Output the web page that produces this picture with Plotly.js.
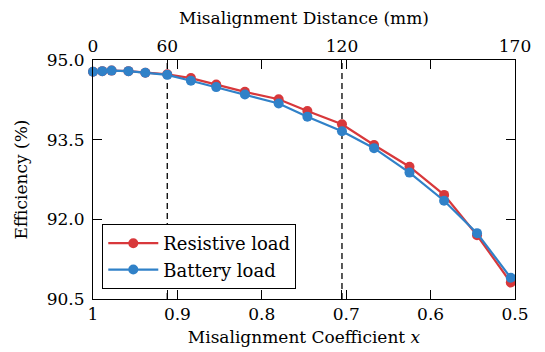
<!DOCTYPE html>
<html>
<head>
<meta charset="utf-8">
<script src="https://cdn.plot.ly/plotly-3.0.1.min.js"></script>
<style>
  html, body { margin: 0; padding: 0; background: #fff; }
  #chart { width: 545px; height: 352px; }
</style>
</head>
<body>
<div id="chart"></div>
<script>
// Misalignment coefficient of each measured point
const coefficient = [1.0, 0.989, 0.978, 0.958, 0.938, 0.912, 0.884, 0.854, 0.82,
                     0.78, 0.746, 0.705, 0.667, 0.625, 0.584, 0.545, 0.505];
// Efficiency (%) for each load type
const resistiveEff = [94.78, 94.79, 94.80, 94.79, 94.76, 94.73, 94.66, 94.54, 94.40,
                      94.26, 94.04, 93.79, 93.40, 92.99, 92.46, 91.70, 90.81];
const batteryEff   = [94.78, 94.79, 94.80, 94.79, 94.76, 94.72, 94.61, 94.49, 94.35,
                      94.18, 93.93, 93.66, 93.34, 92.88, 92.35, 91.74, 90.90];

// Top axis: misalignment distance (mm) and the coefficient it corresponds to
const distanceLabels = ['0', '60', '120', '170'];
const distanceCoef   = [1.0, 0.912, 0.705, 0.5];
// Distances marked with a dashed guide line
const guideDistances = ['60', '120'];

// Bottom axis and y axis ticks
const coefTicks = [1, 0.9, 0.8, 0.7, 0.6, 0.5];
const coefTickText = ['1', '0.9', '0.8', '0.7', '0.6', '0.5'];
const effTicks = [90.5, 92.0, 93.5, 95.0];

const RED = '#d8383b';
const BLUE = '#3081c8';
const FONT = 'DejaVu Serif';
const FS = 17;

const traces = [
  {
    x: coefficient, y: resistiveEff, name: 'Resistive load',
    type: 'scatter', mode: 'lines+markers', cliponaxis: false,
    line: { color: RED, width: 2.2 },
    marker: { color: RED, size: 10 }
  },
  {
    x: coefficient, y: batteryEff, name: 'Battery load',
    type: 'scatter', mode: 'lines+markers', cliponaxis: false,
    line: { color: BLUE, width: 2.2 },
    marker: { color: BLUE, size: 10 }
  }
];

const guideShapes = guideDistances.map(d => ({
  type: 'line', xref: 'x', yref: 'paper',
  x0: distanceCoef[distanceLabels.indexOf(d)],
  x1: distanceCoef[distanceLabels.indexOf(d)],
  y0: 0, y1: 1,
  line: { color: '#000', width: 1.3, dash: '6px,4px' },
  layer: 'below'
}));

const layout = {
  width: 545, height: 352,
  margin: { l: 93, r: 30, t: 60, b: 53 },
  paper_bgcolor: '#fff', plot_bgcolor: '#fff',
  font: { family: FONT, size: FS, color: '#000' },
  showlegend: true,
  legend: {
    x: 0.022, y: 0.042, xanchor: 'left', yanchor: 'bottom',
    bordercolor: '#000', borderwidth: 1, bgcolor: '#fff',
    itemwidth: 50,
    font: { family: FONT, size: 18, color: '#000' }
  },
  xaxis: {
    range: [1, 0.5],
    tickvals: coefTicks, ticktext: coefTickText,
    ticks: 'inside', ticklen: 9, tickcolor: '#000', tickwidth: 1,
    showline: true, linecolor: '#000', linewidth: 1, mirror: 'ticks',
    showgrid: false, zeroline: false,
    tickfont: { family: FONT, size: FS },
    title: { text: 'Misalignment Coefficient <i>x</i>', font: { family: FONT, size: FS }, standoff: 7 }
  },
  xaxis2: {
    overlaying: 'x', side: 'top', matches: 'x',
    range: [1, 0.5],
    tickvals: distanceCoef, ticktext: distanceLabels,
    ticks: 'inside', ticklen: 9, tickcolor: '#000', tickwidth: 1,
    ticklabelstandoff: 4,
    showline: false, mirror: 'ticks',
    showgrid: false, zeroline: false,
    tickfont: { family: FONT, size: FS },
    title: { text: 'Misalignment Distance (mm)', font: { family: FONT, size: FS }, standoff: 6 }
  },
  yaxis: {
    range: [90.5, 95.0],
    tickvals: effTicks, tickformat: '.1f',
    ticks: 'inside', ticklen: 9, tickcolor: '#000', tickwidth: 1,
    ticklabelstandoff: 4,
    showline: true, linecolor: '#000', linewidth: 1, mirror: 'ticks',
    showgrid: false, zeroline: false,
    tickfont: { family: FONT, size: FS },
    title: { text: 'Efficiency (%)', font: { family: FONT, size: FS }, standoff: 14 }
  },
  shapes: guideShapes
};

// Invisible trace carrying the top distance axis
traces.push({
  x: distanceCoef, y: distanceCoef.map(() => 95.0), xaxis: 'x2', yaxis: 'y',
  type: 'scatter', mode: 'markers', showlegend: false, hoverinfo: 'skip',
  marker: { opacity: 0 }
});

Plotly.newPlot('chart', traces, layout, { staticPlot: true, displayModeBar: false });
</script>
</body>
</html>
